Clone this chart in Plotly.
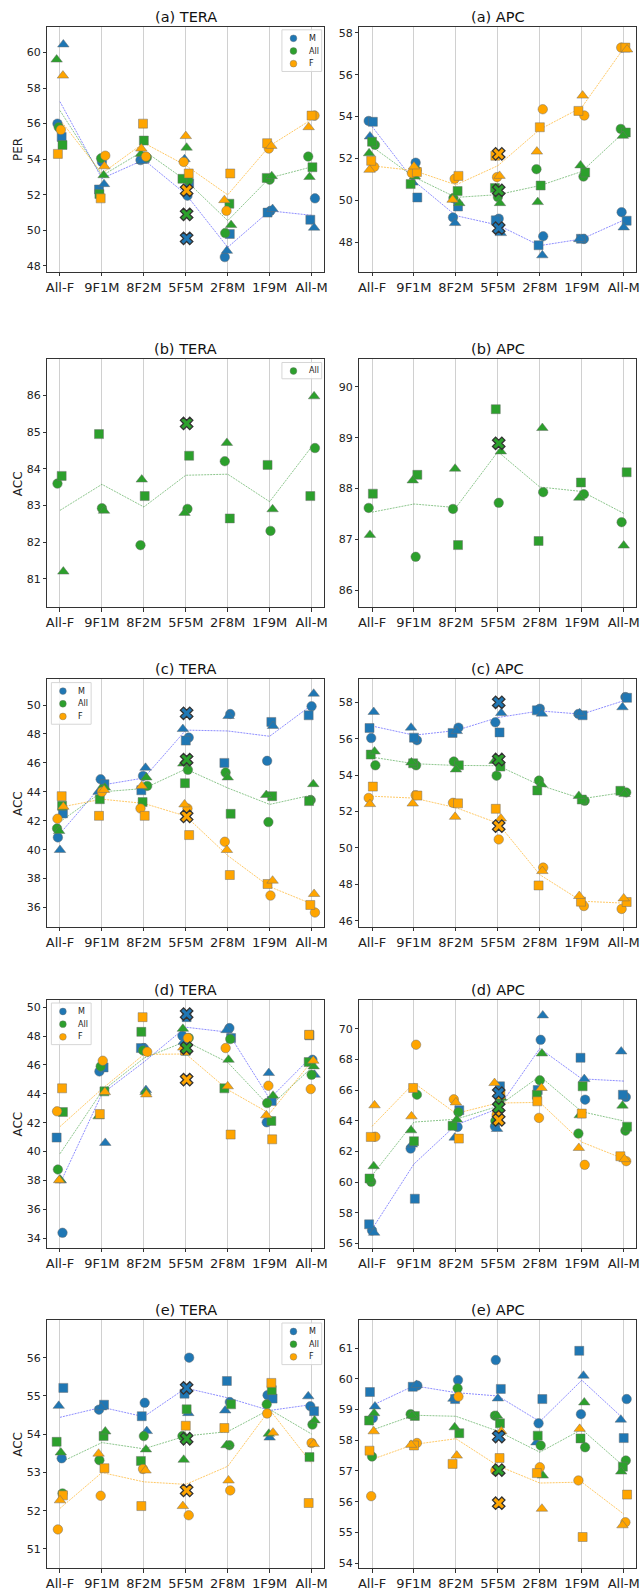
import plotly.graph_objects as go

CATEGORIES = ["All-F", "9F1M", "8F2M", "5F5M", "2F8M", "1F9M", "All-M"]
SERIES = ["M", "All", "F"]

# Each list: one row per category, values for [circle, square, triangle] markers
A_TERA_M = [[56.0, 55.25, 60.45], [53.85, 52.3, 52.6], [53.95, 54.05, 53.9], [51.95, 52.65, 54.0],
            [48.5, 49.8, 48.85], [51.1, 51.0, 51.2], [51.8, 50.6, 50.15]]
A_TERA_ALL = [[55.8, 54.8, 59.6], [54.05, 52.05, 53.1], [54.1, 55.05, 54.3], [52.8, 52.9, 54.65],
              [49.85, 51.5, 50.3], [52.85, 52.95, 53.05], [54.15, 53.55, 53.0]]
A_TERA_F = [[55.65, 54.3, 58.7], [54.2, 51.8, 53.6], [54.15, 56.0, 54.6], [53.85, 53.2, 55.3],
            [51.1, 53.2, 51.7], [54.6, 54.9, 54.75], [56.45, 56.45, 55.8]]
A_TERA_X = [49.55, 50.9, 52.25]  # extra 5F5M points for M, All, F

A_APC_M = [[53.79, 53.75, 53.05], [51.8, 50.14, 50.85], [49.19, 49.71, 48.92], [49.13, 49.05, 48.44],
           [48.29, 47.86, 47.38], [48.16, 48.17, 48.15], [49.44, 49.03, 48.71]]
A_APC_ALL = [[52.65, 52.8, 52.25], [51.43, 50.78, 51.14], [50.11, 50.45, 49.87], [50.16, 50.59, 49.87],
             [51.49, 50.71, 49.92], [51.14, 51.33, 51.67], [53.41, 53.24, 53.08]]
A_APC_F = [[51.6, 51.89, 51.46], [51.3, 51.35, 51.62], [51.03, 51.17, 50.03], [51.11, 52.13, 51.17],
           [54.35, 53.49, 52.33], [54.05, 54.27, 55.0], [57.29, 57.29, 57.2]]
A_APC_X = [48.68, 50.48, 52.22]

B_TERA_ALL = [[83.6, 83.81, 81.2], [82.93, 84.95, 82.86], [81.92, 83.26, 83.71], [82.91, 84.36, 82.8],
              [84.21, 82.65, 84.71], [82.31, 84.11, 82.9], [84.57, 83.26, 85.98]]
B_TERA_X = [85.24]
B_APC_ALL = [[87.62, 87.9, 87.09], [86.66, 88.27, 88.16], [87.6, 86.89, 88.39], [87.72, 89.56, 88.73],
             [87.93, 86.97, 89.19], [87.89, 88.12, 87.82], [87.34, 88.32, 86.88]]
B_APC_X = [88.89]

C_TERA_M = [[40.85, 42.51, 39.98], [44.87, 44.53, 44.0], [45.1, 44.11, 45.66], [47.75, 47.54, 48.34],
            [49.38, 46.0, 49.24], [46.14, 48.83, 48.55], [49.91, 49.29, 50.78]]
C_TERA_ALL = [[41.47, 43.03, 41.29], [44.2, 43.49, 44.3], [44.41, 43.29, 44.99], [45.52, 44.6, 45.95],
              [45.33, 42.48, 44.99], [41.91, 43.7, 43.78], [43.43, 43.36, 44.53]]
C_TERA_F = [[42.14, 43.7, 42.97], [44.0, 42.34, 44.13], [42.85, 42.34, 44.41], [42.85, 41.01, 43.13],
            [40.55, 38.25, 39.98], [36.83, 37.63, 37.86], [35.66, 36.18, 36.94]]
C_TERA_X = [49.43, 46.23, 42.3]

C_APC_M = [[56.04, 56.59, 57.47], [55.92, 56.06, 56.61], [56.61, 56.32, 56.42], [56.9, 56.35, 57.41],
           [57.65, 57.56, 57.38], [57.36, 57.29, 57.4], [58.29, 58.25, 57.73]]
C_APC_ALL = [[54.54, 55.13, 55.3], [54.54, 54.65, 54.7], [54.75, 54.54, 54.31], [53.97, 54.47, 54.78],
             [53.7, 53.16, 53.49], [52.59, 52.66, 52.86], [53.05, 53.14, 52.96]]
C_APC_F = [[52.75, 53.37, 52.41], [52.9, 52.88, 52.44], [52.48, 52.45, 51.71], [50.47, 52.15, 51.62],
           [48.92, 47.94, 48.73], [46.81, 47.05, 47.36], [46.65, 47.03, 47.23]]
C_APC_X = [58.0, 54.86, 51.2]

D_TERA_M = [[34.38, 40.97, 38.0], [45.55, 45.83, 40.6], [47.17, 47.17, 44.26], [48.02, 49.31, 47.6],
            [48.55, 47.86, 48.41], [42.03, 43.5, 45.44], [46.36, 48.05, 45.32]]
D_TERA_ALL = [[38.76, 42.74, 38.06], [45.9, 44.17, 42.44], [47.0, 48.29, 44.12], [47.87, 46.98, 48.5],
              [47.79, 44.38, 46.36], [43.36, 42.12, 43.87], [45.32, 46.2, 45.9]]
D_TERA_F = [[42.79, 44.38, 38.02], [46.29, 42.6, 44.12], [46.91, 49.31, 43.96], [47.86, 47.0, 47.2],
            [47.17, 41.18, 44.52], [44.56, 40.85, 42.51], [44.33, 48.09, 46.29]]
D_TERA_X = [49.52, 47.17, 44.98]

D_APC_M = [[56.85, 57.25, 56.7], [62.19, 58.92, 62.45], [63.6, 64.69, 62.9], [63.64, 66.25, 63.47],
           [69.28, 66.01, 70.87], [65.38, 68.11, 66.72], [65.55, 65.7, 68.52]]
D_APC_ALL = [[60.02, 60.24, 61.04], [65.7, 62.67, 63.38], [64.56, 63.67, 64.08], [63.99, 65.4, 65.5],
             [66.64, 65.7, 68.39], [63.17, 66.25, 64.36], [63.36, 63.62, 64.99]]
D_APC_F = [[62.96, 62.95, 65.01], [68.96, 66.14, 64.29], [65.4, 62.84, 65.2], [64.4, 65.72, 66.46],
           [64.19, 65.27, 66.14], [61.13, 64.47, 62.23], [61.37, 61.69, 61.5]]
D_APC_X = [65.81, 64.88, 64.06]

E_TERA_M = [[53.37, 55.21, 54.74], [54.64, 54.77, 54.7], [54.82, 54.47, 54.08], [56.0, 55.06, 54.55],
            [54.84, 55.39, 54.62], [55.02, 54.93, 53.91], [54.73, 54.6, 54.99]]
E_TERA_ALL = [[52.45, 53.8, 53.52], [53.32, 53.95, 54.07], [53.95, 53.3, 53.6], [53.95, 54.65, 53.33],
              [53.71, 54.78, 53.71], [54.78, 55.15, 54.01], [54.25, 53.4, 54.36]]
E_TERA_F = [[51.51, 52.4, 52.27], [52.39, 53.11, 53.49], [53.09, 52.12, 53.05], [51.88, 54.22, 52.12],
            [52.53, 54.16, 52.79], [54.54, 55.34, 54.04], [53.77, 52.2, 53.74]]
E_TERA_X = [55.21, 53.88, 52.53]

E_APC_M = [[58.72, 59.57, 59.1], [59.78, 59.74, 59.8], [59.96, 59.34, 59.35], [60.61, 59.67, 59.36],
           [58.55, 59.34, 57.93], [58.85, 60.91, 60.1], [59.34, 58.07, 58.67]]
E_APC_ALL = [[57.47, 58.64, 58.88], [58.85, 58.79, 58.8], [59.69, 58.23, 58.42], [58.8, 58.55, 58.8],
             [57.83, 58.15, 56.85], [57.77, 58.06, 59.23], [57.34, 57.14, 56.98]]
E_APC_F = [[56.18, 57.66, 58.29], [57.91, 57.83, 57.85], [59.42, 57.23, 57.5], [57.01, 57.42, 58.29],
           [57.12, 56.93, 55.77], [56.69, 54.85, 58.37], [55.33, 56.23, 55.23]]
E_APC_X = [58.12, 57.03, 55.95]

X_CAT_INDEX = 3  # the extra X points belong to 5F5M

# ---------------- style / layout -----------------
W, H = 641, 1591
COLORS = {"M": "#1f77b4", "All": "#2ca02c", "F": "#ffa500"}
LINE_COLORS = {"M": "rgba(0,0,255,0.45)", "All": "rgba(0,128,0,0.45)", "F": "rgba(255,165,0,0.6)"}
SYMBOLS = ["circle", "square", "triangle-up"]
SIZES = [9.5, 9, 10]
JITTER = [-0.06, 0.04, 0.08, -0.03, 0.06, -0.08, 0.02, -0.05, 0.07, 0.0, -0.07, 0.05, -0.02]

X_DOM = [(46.7, 325.2), (360.7, 639.3)]
ROWS = [(26.7, 272.2), (360.0, 608.3), (680.7, 928.7), (1001.7, 1250.0), (1322.3, 1571.0)]

PANELS = [
    ("(a) TERA", "PER", {"M": A_TERA_M, "All": A_TERA_ALL, "F": A_TERA_F}, A_TERA_X, (47.68, 61.45), 2, "right"),
    ("(a) APC", None, {"M": A_APC_M, "All": A_APC_ALL, "F": A_APC_F}, A_APC_X, (46.6, 58.29), 2, None),
    ("(b) TERA", "ACC", {"All": B_TERA_ALL}, B_TERA_X, (80.23, 86.99), 1, "right"),
    ("(b) APC", None, {"All": B_APC_ALL}, B_APC_X, (85.67, 90.54), 1, None),
    ("(c) TERA", "ACC", {"M": C_TERA_M, "All": C_TERA_ALL, "F": C_TERA_F}, C_TERA_X, (34.66, 51.77), 2, "left"),
    ("(c) APC", None, {"M": C_APC_M, "All": C_APC_ALL, "F": C_APC_F}, C_APC_X, (45.66, 59.26), 2, None),
    ("(d) TERA", "ACC", {"M": D_TERA_M, "All": D_TERA_ALL, "F": D_TERA_F}, D_TERA_X, (33.35, 50.51), 2, "left"),
    ("(d) APC", None, {"M": D_APC_M, "All": D_APC_ALL, "F": D_APC_F}, D_APC_X, (55.73, 71.89), 2, None),
    ("(e) TERA", "ACC", {"M": E_TERA_M, "All": E_TERA_ALL, "F": E_TERA_F}, E_TERA_X, (50.5, 56.99), 1, "right"),
    ("(e) APC", None, {"M": E_APC_M, "All": E_APC_ALL, "F": E_APC_F}, E_APC_X, (53.84, 61.92), 1, None),
]

fig = go.Figure()
layout = dict(width=W, height=H, margin=dict(l=0, r=0, t=0, b=0),
              paper_bgcolor="white", plot_bgcolor="white", showlegend=False,
              font=dict(family="DejaVu Sans", color="#222"))
annotations, shapes = [], []

def px_x(v):
    return v / W

def px_y(v):
    return 1 - v / H

for p, (title, ylab, series, xvals, yr, dt, leg) in enumerate(PANELS):
    r, c = divmod(p, 2)
    n = p + 1
    xa = "x" if n == 1 else f"x{n}"
    ya = "y" if n == 1 else f"y{n}"
    x0p, x1p = X_DOM[c]
    y0p, y1p = ROWS[r]
    layout["xaxis" if n == 1 else f"xaxis{n}"] = dict(
        domain=[px_x(x0p), px_x(x1p)], anchor=ya, range=[-0.3, 6.3],
        tickvals=list(range(len(CATEGORIES))), ticktext=CATEGORIES,
        showgrid=True, gridcolor="#d0d0d0", gridwidth=1, zeroline=False,
        showline=True, mirror=True, linecolor="#333", linewidth=1,
        ticks="outside", ticklen=3.5, tickcolor="#333", tickfont=dict(size=13, color="#222"))
    layout["yaxis" if n == 1 else f"yaxis{n}"] = dict(
        domain=[px_y(y1p), px_y(y0p)], anchor=xa, range=list(yr), dtick=dt, tick0=0,
        showgrid=False, zeroline=False, showline=True, mirror=True, linecolor="#333", linewidth=1,
        ticks="outside", ticklen=3.5, tickcolor="#333", tickfont=dict(size=11, color="#222"))

    # mean lines
    for s_name in series:
        vals = series[s_name]
        xi = list(series.keys()).index(s_name)
        means = []
        for ci, row in enumerate(vals):
            pts = list(row)
            if ci == X_CAT_INDEX:
                pts.append(xvals[xi])
            means.append(sum(pts) / len(pts))
        fig.add_trace(go.Scatter(x=list(range(len(CATEGORIES))), y=means, mode="lines",
                                 line=dict(color=LINE_COLORS[s_name], width=1, dash="2px,1px"),
                                 xaxis=xa, yaxis=ya, hoverinfo="skip"))
    # markers
    for s_name in series:
        vals = series[s_name]
        si = SERIES.index(s_name)
        for m in range(3):
            xs, ys = [], []
            for ci, row in enumerate(vals):
                j = JITTER[(ci * 9 + si * 3 + m + p * 5) % len(JITTER)]
                xs.append(ci + j)
                ys.append(row[m])
            fig.add_trace(go.Scatter(x=xs, y=ys, mode="markers", xaxis=xa, yaxis=ya,
                                     marker=dict(symbol=SYMBOLS[m], size=SIZES[m], color=COLORS[s_name],
                                                 line=dict(color="rgba(110,110,110,0.8)", width=0.6))))
    # X markers
    for k, s_name in enumerate(series):
        fig.add_trace(go.Scatter(x=[X_CAT_INDEX + 0.02], y=[xvals[k]], mode="markers", xaxis=xa, yaxis=ya,
                                 marker=dict(symbol="x", size=11, color=COLORS[s_name],
                                             line=dict(color="#333", width=1.3))))

    # title
    annotations.append(dict(text=title, xref="paper", yref="paper", x=px_x((x0p + x1p) / 2),
                            y=px_y(y0p - 10), xanchor="center", yanchor="middle", showarrow=False,
                            font=dict(size=14.5, color="#111")))
    if ylab:
        annotations.append(dict(text=ylab, xref="paper", yref="paper", x=px_x(17), y=px_y((y0p + y1p) / 2),
                                xanchor="center", yanchor="middle", textangle=-90, showarrow=False,
                                font=dict(size=12, color="#222")))
    # legend (drawn as shapes + text)
    if leg:
        names = list(series.keys())
        bx0 = x0p + 4 if leg == "left" else x1p - 42.5
        by0 = y0p + 3.2
        bh = 16.3 + 12.7 * (len(names) - 1)
        shapes.append(dict(type="rect", xref="paper", yref="paper", x0=px_x(bx0), x1=px_x(bx0 + 40),
                           y0=px_y(by0 + bh), y1=px_y(by0), line=dict(color="#d6d6d6", width=1),
                           fillcolor="rgba(255,255,255,0.85)", layer="above"))
        for k, nm in enumerate(names):
            cy = by0 + 8.5 + 12.7 * k
            cx = bx0 + 11.6
            shapes.append(dict(type="circle", xref="paper", yref="paper", xsizemode="pixel",
                               ysizemode="pixel", xanchor=px_x(cx), yanchor=px_y(cy),
                               x0=-3.4, x1=3.4, y0=-3.4, y1=3.4, fillcolor=COLORS[nm],
                               line=dict(color="rgba(110,110,110,0.8)", width=0.5), layer="above"))
            annotations.append(dict(text=nm, xref="paper", yref="paper", x=px_x(bx0 + 25), y=px_y(cy),
                                    xanchor="left", yanchor="middle", showarrow=False,
                                    font=dict(size=8, color="#222")))

layout["annotations"] = annotations
layout["shapes"] = shapes
fig.update_layout(**layout)
fig.write_html("out.html", config={"displayModeBar": False},
               post_script="document.body.style.margin='0px';document.body.style.padding='0px';"
                           "document.documentElement.style.overflow='hidden';")
